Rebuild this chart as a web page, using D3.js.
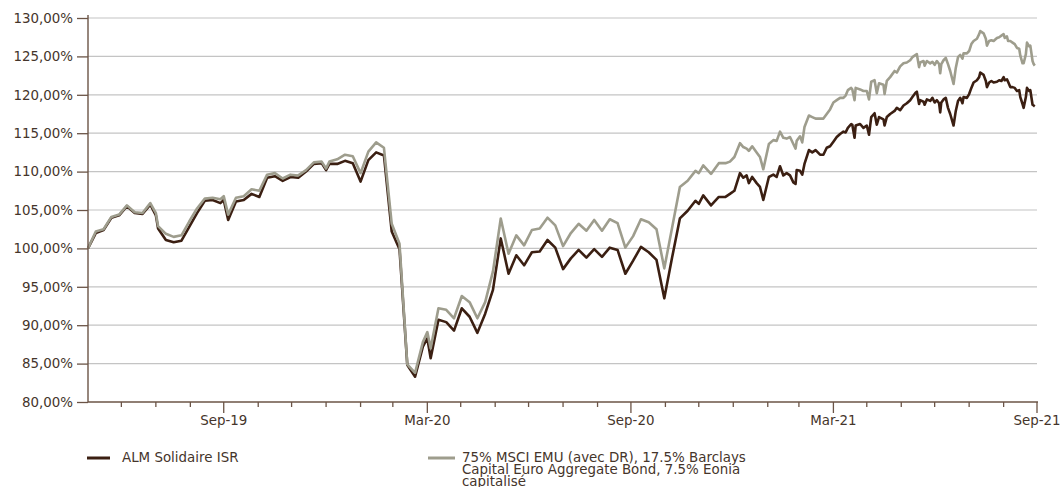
<!DOCTYPE html>
<html>
<head>
<meta charset="utf-8">
<script src="https://cdn.jsdelivr.net/npm/d3@7"></script>
<style>
  body { margin: 0; background: #ffffff; }
  svg { display: block; }
  text { font-family: "DejaVu Sans", Verdana, sans-serif; }
</style>
</head>
<body>
<svg id="chart" width="1060" height="487"></svg>
<script>
// Observation dates (weekly Friday values, month-end values, then daily-ish from 2021)
const dates = [
  "2019-05-31","2019-06-07","2019-06-14","2019-06-21","2019-06-28","2019-07-05","2019-07-12","2019-07-19","2019-07-26","2019-07-31",
  "2019-08-02","2019-08-09","2019-08-16","2019-08-23","2019-08-30","2019-09-06","2019-09-13","2019-09-20","2019-09-27","2019-09-30",
  "2019-10-04","2019-10-11","2019-10-18","2019-10-25","2019-11-01","2019-11-08","2019-11-15","2019-11-22","2019-11-29","2019-12-06",
  "2019-12-13","2019-12-20","2019-12-27","2019-12-31","2020-01-03","2020-01-10","2020-01-17","2020-01-24","2020-01-31","2020-02-07",
  "2020-02-14","2020-02-21","2020-02-28","2020-03-06","2020-03-13","2020-03-20","2020-03-27","2020-03-31","2020-04-03","2020-04-10",
  "2020-04-17","2020-04-24","2020-05-01","2020-05-08","2020-05-15","2020-05-22","2020-05-29","2020-06-05","2020-06-12","2020-06-19",
  "2020-06-26","2020-07-03","2020-07-10","2020-07-17","2020-07-24","2020-07-31","2020-08-07","2020-08-14","2020-08-21","2020-08-28",
  "2020-09-04","2020-09-11","2020-09-18","2020-09-25","2020-10-02","2020-10-09","2020-10-16","2020-10-23","2020-10-30","2020-11-06",
  "2020-11-13","2020-11-20","2020-11-27","2020-11-30","2020-12-04","2020-12-11","2020-12-18","2020-12-24","2020-12-28","2021-01-01",
  "2021-01-06","2021-01-09","2021-01-12","2021-01-14","2021-01-17","2021-01-21","2021-01-24","2021-01-27",
  "2021-02-01","2021-02-05","2021-02-08","2021-02-11","2021-02-14","2021-02-17","2021-02-20","2021-02-23","2021-02-25","2021-02-26",
  "2021-03-01","2021-03-03","2021-03-05","2021-03-09","2021-03-12","2021-03-15","2021-03-19","2021-03-22","2021-03-25","2021-03-28","2021-03-31",
  "2021-04-03","2021-04-06","2021-04-09","2021-04-11","2021-04-13","2021-04-16","2021-04-17","2021-04-19","2021-04-20","2021-04-24","2021-04-27","2021-04-30",
  "2021-05-02","2021-05-04","2021-05-07","2021-05-09","2021-05-11","2021-05-15","2021-05-16","2021-05-18","2021-05-21","2021-05-25","2021-05-27","2021-05-30",
  "2021-06-02","2021-06-05","2021-06-08","2021-06-10","2021-06-13","2021-06-14","2021-06-16","2021-06-17","2021-06-20","2021-06-21","2021-06-23","2021-06-26","2021-06-28","2021-06-30",
  "2021-07-02","2021-07-04","2021-07-05","2021-07-06","2021-07-08","2021-07-10","2021-07-12","2021-07-14","2021-07-17","2021-07-19","2021-07-21","2021-07-23","2021-07-25","2021-07-26","2021-07-29","2021-07-31",
  "2021-08-02","2021-08-04","2021-08-07","2021-08-09","2021-08-10","2021-08-13","2021-08-15","2021-08-16","2021-08-18","2021-08-20","2021-08-22","2021-08-25","2021-08-27","2021-08-29","2021-08-31",
  "2021-09-01","2021-09-03","2021-09-04","2021-09-06","2021-09-08","2021-09-10","2021-09-12","2021-09-14","2021-09-15","2021-09-17","2021-09-18","2021-09-20","2021-09-21","2021-09-23","2021-09-24","2021-09-26","2021-09-27","2021-09-28"
];

// ALM Solidaire ISR, base 100
const almSolidaire = [
  100.0,102.0,102.4,104.0,104.3,105.5,104.6,104.5,105.7,104.3,
  102.6,101.1,100.8,101.0,102.8,104.6,106.2,106.3,105.9,106.3,
  103.7,106.1,106.3,107.1,106.7,109.2,109.4,108.8,109.3,109.2,
  110.0,111.0,111.1,110.2,111.0,111.0,111.4,111.1,108.7,111.5,
  112.5,112.1,102.2,99.9,84.8,83.3,87.2,88.3,85.7,90.7,
  90.4,89.3,92.2,91.1,89.0,91.5,94.6,101.3,96.7,99.1,
  97.8,99.5,99.6,101.1,100.1,97.3,98.7,99.8,98.8,99.9,
  98.9,100.1,99.8,96.7,98.4,100.2,99.5,98.5,93.5,98.8,
  103.9,104.9,106.2,105.8,106.9,105.6,106.7,106.7,107.1,107.5,
  109.8,109.2,109.5,108.5,109.3,108.5,108.0,106.3,
  109.3,109.6,109.3,110.7,109.5,109.8,109.5,108.6,108.4,110.2,
  110.1,109.6,111.0,112.8,112.5,112.8,112.2,112.2,113.1,113.3,113.9,
  114.5,114.9,115.2,115.1,115.7,116.2,116.1,114.4,116.0,116.2,115.7,116.0,
  114.8,117.1,117.6,116.1,117.1,116.8,116.0,117.1,117.5,117.9,118.3,118.0,
  118.6,118.9,119.3,119.7,120.3,120.4,118.8,119.3,119.1,118.7,119.4,119.2,119.6,119.0,
  119.3,118.9,117.7,119.0,119.4,119.6,118.3,117.5,116.0,117.9,119.2,119.6,118.9,119.7,119.6,120.1,
  120.9,121.6,121.9,122.3,122.9,122.6,121.8,121.0,121.6,121.8,121.6,121.7,121.9,121.8,122.3,
  121.9,122.0,121.7,121.0,121.0,120.9,120.5,120.6,119.7,118.8,118.3,119.7,120.9,120.5,120.6,118.7,118.6,118.5
];

// 75% MSCI EMU (avec DR), 17.5% Barclays Capital Euro Aggregate Bond, 7.5% Eonia capitalisé, base 100
const benchmark = [
  100.0,102.2,102.5,104.1,104.4,105.6,104.7,104.6,105.9,104.6,
  102.9,101.9,101.5,101.7,103.5,105.2,106.5,106.6,106.4,106.8,
  104.4,106.6,106.8,107.7,107.5,109.6,109.8,109.1,109.6,109.5,
  110.2,111.2,111.3,110.4,111.3,111.6,112.2,112.0,109.8,112.6,
  113.8,113.1,103.2,100.6,84.9,83.8,87.8,89.1,87.0,92.2,
  92.0,90.9,93.8,93.0,90.9,93.0,97.0,103.9,99.3,101.7,
  100.4,102.4,102.6,104.0,103.0,100.3,102.0,103.2,102.3,103.7,
  102.3,103.8,103.3,100.1,101.6,103.8,103.4,102.5,97.4,102.7,
  108.0,108.8,110.1,109.8,110.8,109.7,111.1,111.1,111.3,111.9,
  113.7,113.2,113.0,112.7,113.3,112.5,111.9,110.3,
  113.6,114.1,114.0,115.2,114.4,114.3,114.5,113.6,113.0,114.0,
  114.6,113.8,115.8,117.3,117.1,116.9,116.9,116.9,117.5,118.1,119.0,
  119.3,119.6,119.6,119.9,120.6,120.9,120.7,119.3,120.9,120.7,120.5,120.5,
  119.4,121.7,121.9,120.2,121.5,121.3,120.1,121.8,122.3,123.1,122.9,123.7,
  124.1,124.2,124.5,124.9,125.2,125.3,123.6,124.2,124.4,123.8,124.4,124.1,124.3,123.9,
  124.4,124.0,122.8,124.0,124.5,124.8,124.0,123.1,121.4,123.5,124.9,125.2,124.7,125.4,125.4,125.7,
  126.6,127.0,127.3,127.9,128.3,128.0,127.3,126.4,127.0,127.1,127.0,127.4,127.5,127.7,127.9,
  127.4,127.6,127.0,127.0,126.8,126.6,126.1,126.0,125.1,124.1,124.1,125.3,126.8,126.3,126.4,124.4,124.0,123.8
];

const yTickValues = [80, 85, 90, 95, 100, 105, 110, 115, 120, 125, 130];
const xTickLabels = ["Sep-19", "Mar-20", "Sep-20", "Mar-21", "Sep-21"];
const legendFund = ["ALM Solidaire ISR"];
const legendBenchmark = ["75% MSCI EMU (avec DR), 17.5% Barclays", "Capital Euro Aggregate Bond, 7.5% Eonia", "capitalisé"];

const colors = { fund: "#3b1f12", bench: "#9e9d8d", axis: "#6b5446", text: "#45352b", grid: "#c4c4c4" };

const parse = d3.timeParse("%Y-%m-%d");
const rows = dates.map((d, i) => ({ date: parse(d), fund: almSolidaire[i], bench: benchmark[i] }));

const plot = { left: 88, right: 1037, top: 18, bottom: 402 };

const x = d3.scaleTime()
  .domain([parse("2019-05-31"), parse("2021-09-30")])
  .range([plot.left, plot.right]);
const y = d3.scaleLinear().domain([80, 130]).range([plot.bottom, plot.top]);

const fr = d3.formatLocale({ decimal: ",", thousands: " ", grouping: [3], currency: ["", " €"] });
const pct = v => fr.format(".2f")(v) + "%";

const svg = d3.select("#chart");

// horizontal grid
svg.append("g").selectAll("line").data(yTickValues.filter(v => v > 80)).join("line")
  .attr("x1", plot.left).attr("x2", plot.right)
  .attr("y1", d => y(d)).attr("y2", d => y(d))
  .attr("stroke", colors.grid).attr("stroke-width", 1.2);

// series
const line = key => d3.line().x(d => x(d.date)).y(d => y(d[key])).curve(d3.curveLinear);
svg.append("path").datum(rows).attr("d", line("fund"))
  .attr("fill", "none").attr("stroke", colors.fund).attr("stroke-width", 2.6).attr("stroke-linejoin", "round");
svg.append("path").datum(rows).attr("d", line("bench"))
  .attr("fill", "none").attr("stroke", colors.bench).attr("stroke-width", 2.6).attr("stroke-linejoin", "round");

// y axis
const yAxis = svg.append("g").attr("transform", `translate(${plot.left},0)`)
  .call(d3.axisLeft(y).tickValues(yTickValues).tickSize(11).tickSizeOuter(0).tickPadding(4).tickFormat(pct));
yAxis.select(".domain").remove();
yAxis.selectAll(".tick line").attr("stroke", colors.axis).attr("stroke-width", 1.3);
yAxis.selectAll(".tick text").attr("fill", colors.text).style("font-size", "13.4px").style("font-family", "DejaVu Sans, Verdana, sans-serif");
svg.append("line").attr("x1", plot.left).attr("x2", plot.left).attr("y1", plot.top - 3).attr("y2", plot.bottom)
  .attr("stroke", colors.axis).attr("stroke-width", 1.4);

// x axis: a tick at every month end, longer ticks with labels every six months
const monthEnds = d3.timeMonth.range(parse("2019-06-01"), parse("2021-10-02")).map(d => d3.timeDay.offset(d, -1))
  .filter(d => d > x.domain()[0]);
const fmtMonth = d3.timeFormat("%b-%y");
const isMajor = d => xTickLabels.includes(fmtMonth(d));

const xAxis = svg.append("g");
xAxis.append("line").attr("x1", plot.left).attr("x2", plot.right + 1).attr("y1", plot.bottom).attr("y2", plot.bottom)
  .attr("stroke", colors.axis).attr("stroke-width", 1.4);
xAxis.selectAll("line.tick").data(monthEnds).join("line").attr("class", "tick")
  .attr("x1", d => x(d)).attr("x2", d => x(d))
  .attr("y1", plot.bottom).attr("y2", d => plot.bottom + (isMajor(d) ? 11 : 5))
  .attr("stroke", colors.axis).attr("stroke-width", 1.3);
xAxis.selectAll("text").data(monthEnds.filter(isMajor)).join("text")
  .attr("x", d => x(d)).attr("y", plot.bottom + 23)
  .attr("text-anchor", "middle").attr("fill", colors.text).style("font-size", "13.4px")
  .text(d => fmtMonth(d));

// legend
const legend = svg.append("g");
const items = [
  { lines: legendFund, color: colors.fund, x0: 87, x1: 110, tx: 122 },
  { lines: legendBenchmark, color: colors.bench, x0: 428, x1: 455, tx: 462 }
];
items.forEach(it => {
  legend.append("line").attr("x1", it.x0).attr("x2", it.x1).attr("y1", 458).attr("y2", 458)
    .attr("stroke", it.color).attr("stroke-width", 3);
  const t = legend.append("text").attr("x", it.tx).attr("y", 462).attr("fill", colors.text).style("font-size", "13.4px");
  it.lines.forEach((s, i) => t.append("tspan").attr("x", it.tx).attr("dy", i === 0 ? 0 : 12).text(s));
});
</script>
</body>
</html>
